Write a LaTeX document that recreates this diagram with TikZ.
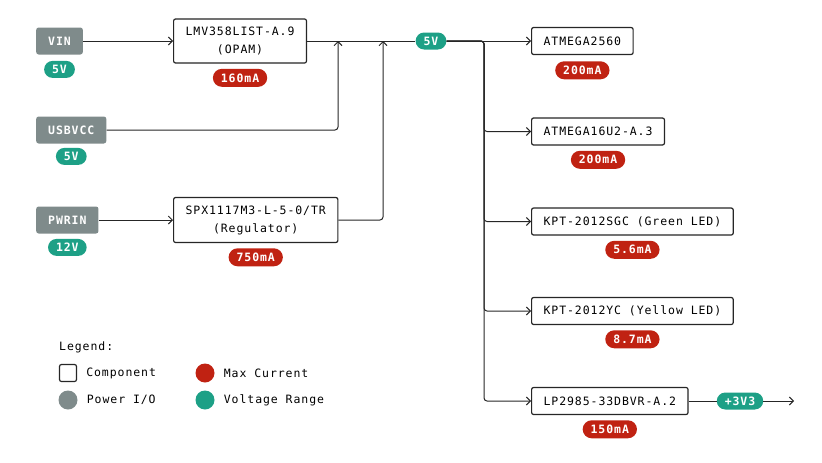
\documentclass[tikz,border=0pt]{standalone}
\usepackage{fontspec}
\usetikzlibrary{positioning,arrows.meta}
\newfontfamily\diagfont[LetterSpace=8]{DejaVu Sans Mono}
\newcommand{\labelfont}{\diagfont\fontsize{11.5}{18}\selectfont}
\definecolor{pwrgray}{RGB}{127,139,139}
\definecolor{ampred}{RGB}{192,34,18}
\definecolor{voltgreen}{RGB}{29,160,134}
\colorlet{wirecol}{black!85}
\tikzstyle{link}=[draw=wirecol,line width=1pt]
\tikzstyle{comp}=[draw=wirecol,rounded corners=2pt,line width=1.2pt,fill=white,
  minimum height=27pt,inner xsep=12pt,inner ysep=8pt,align=center,font=\labelfont]
\tikzstyle{pwr}=[fill=pwrgray,rounded corners=2.5pt,text=white,minimum
  height=27pt,inner xsep=12pt,font=\labelfont\bfseries]
\tikzstyle{amps}=[fill=ampred,rounded corners=9pt,text=white,minimum height=18pt,
  inner xsep=8pt,inner ysep=0pt,font=\labelfont\bfseries]
\tikzstyle{volts}=[amps,fill=voltgreen,rounded corners=8.5pt,minimum height=17pt]
\tikzstyle{key}=[right=9pt of #1,inner sep=0pt,font=\labelfont]

\begin{document}
\begin{tikzpicture}[x=1pt, y=-1pt, node distance=5pt,
    >={Straight Barb[length=4pt,width=8pt]}]
  \useasboundingbox (0,0) rectangle (822,463);

  % power inputs
  \node[pwr, anchor=west] (vin) at (36,41) {VIN};
  \node[volts, below=6pt of vin] (vinV) {5V};
  \node[pwr, anchor=west] (usb) at (36,130) {USBVCC};
  \node[volts, below=4pt of usb] (usbV) {5V};
  \node[pwr, anchor=west] (pwrin) at (36,220) {PWRIN};
  \node[volts, below=5pt of pwrin] (pwrinV) {12V};

  % opamp and regulator
  \node[comp, anchor=west] (opam) at (173,41) {LMV358LIST-A.9\\(OPAM)};
  \node[amps, below=of opam] (opamA) {160mA};
  \node[comp, anchor=west] (reg) at (173,220) {SPX1117M3-L-5-0/TR\\(Regulator)};
  \node[amps, below=of reg] (regA) {750mA};

  \node[volts] (bus5) at (431,41) {5V};
  \coordinate (usbin) at (338,41);
  \coordinate (regin) at (383,41);
  \coordinate (split) at (484,41);

  % loads
  \node[comp, anchor=west] (mega) at (531,41) {ATMEGA2560};
  \node[amps, below=6pt of mega] (megaA) {200mA};
  \node[comp, anchor=west] (usb16) at (531,131.5) {ATMEGA16U2-A.3};
  \node[amps, below=of usb16] (usb16A) {200mA};
  \node[comp, anchor=west] (ledg) at (531,221.5) {KPT-2012SGC (Green LED)};
  \node[amps, below=of ledg] (ledgA) {5.6mA};
  \node[comp, anchor=west] (ledy) at (531,311) {KPT-2012YC (Yellow LED)};
  \node[amps, below=of ledy] (ledyA) {8.7mA};
  \node[comp, anchor=west] (ldo) at (531,401) {LP2985-33DBVR-A.2};
  \node[amps, below=of ldo] (ldoA) {150mA};
  \node[volts] (v33) at (740,401) {+3V3};
  \coordinate (out) at (794,401);

  \draw[link, ->] (vin) -- (opam);
  \draw[link, ->] (pwrin) -- (reg);
  \draw[link, ->, rounded corners=3pt] (usb) -| (usbin);
  \draw[link, ->, rounded corners=3pt] (reg) -| (regin);
  \draw[link] (opam) -- (bus5);
  \draw[link, ->] (bus5) -- (mega);
  \foreach \n in {usb16,ledg,ledy,ldo}
    \draw[link, ->, rounded corners=3pt] (bus5) -- (split) |- (\n);
  \draw[link] (ldo) -- (v33);
  \draw[link, ->] (v33) -- (out);

  % legend
  \node[anchor=west, inner sep=0pt, font=\labelfont] (legend) at (59,347) {Legend:};
  \node[draw=wirecol, line width=1.2pt, rounded corners=2pt, minimum size=17pt,
    inner sep=0pt] (keycomp) at (68,373) {};
  \node[key=keycomp] (keycompT) {Component};
  \node[circle, fill=pwrgray, minimum size=19pt, inner sep=0pt] (keypwr) at (68,400) {};
  \node[key=keypwr] (keypwrT) {Power I/O};
  \node[circle, fill=ampred, minimum size=19pt, inner sep=0pt] (keyamp) at (205,373) {};
  \node[key=keyamp] (keyampT) {Max Current};
  \node[circle, fill=voltgreen, minimum size=19pt, inner sep=0pt] (keyvolt) at (205,400) {};
  \node[key=keyvolt] (keyvoltT) {Voltage Range};
\end{tikzpicture}
\end{document}
